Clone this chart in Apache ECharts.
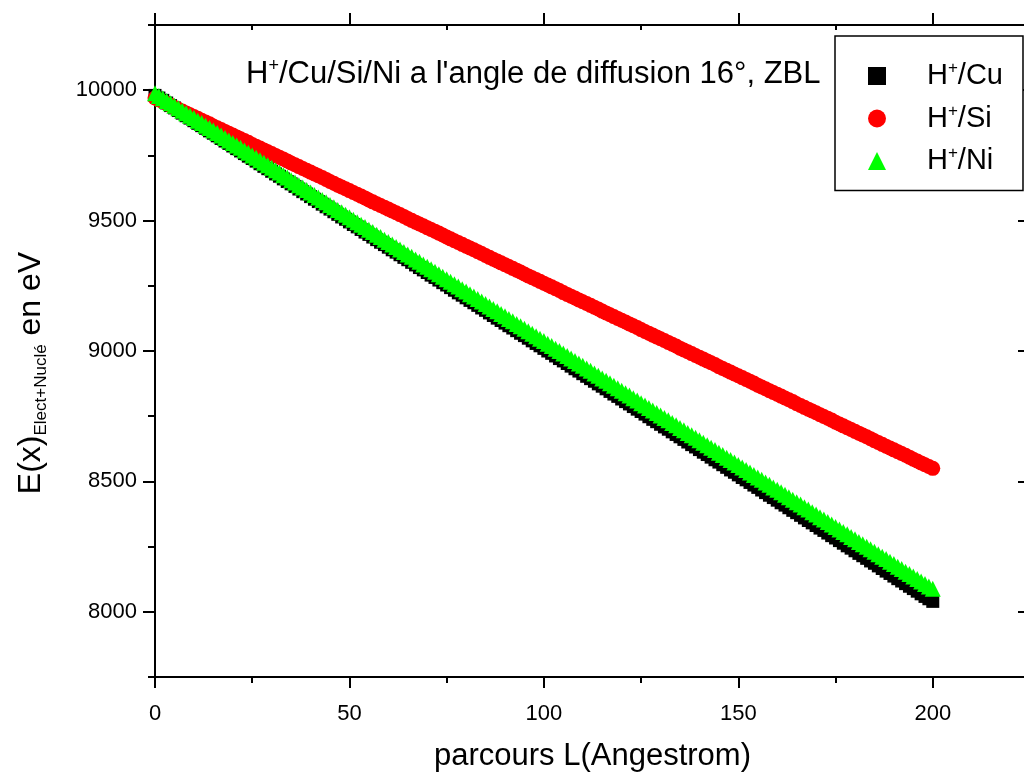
<!DOCTYPE html>
<html>
<head>
<meta charset="utf-8">
<title>E(x) vs parcours L</title>
<script src="https://cdn.jsdelivr.net/npm/echarts@6/dist/echarts.min.js"></script>
<style>
  html, body { margin: 0; padding: 0; background: #fff; }
  #chart { width: 1024px; height: 772px; }
</style>
</head>
<body>
<div id="chart"></div>
<script>
// Path length along the track, in Angstrom (one sample per Angstrom, 0..200)
const pathStep = 1;
const pathCount = 201;

// Residual energy E(x) (electronic + nuclear losses), eV
const energyCu = [
  9980, 9970, 9961, 9951, 9941, 9932, 9922, 9912, 9902, 9893,
  9883, 9873, 9864, 9854, 9844, 9835, 9825, 9815, 9805, 9796,
  9786, 9776, 9767, 9757, 9747, 9738, 9728, 9718, 9708, 9699,
  9689, 9679, 9670, 9660, 9650, 9641, 9631, 9621, 9611, 9602,
  9592, 9582, 9573, 9563, 9553, 9544, 9534, 9524, 9514, 9505,
  9495, 9485, 9476, 9466, 9456, 9447, 9437, 9427, 9417, 9408,
  9398, 9388, 9379, 9369, 9359, 9350, 9340, 9330, 9320, 9311,
  9301, 9291, 9282, 9272, 9262, 9253, 9243, 9233, 9223, 9214,
  9204, 9194, 9185, 9175, 9165, 9156, 9146, 9136, 9126, 9117,
  9107, 9097, 9088, 9078, 9068, 9059, 9049, 9039, 9029, 9020,
  9010, 9000, 8991, 8981, 8971, 8962, 8952, 8942, 8932, 8923,
  8913, 8903, 8894, 8884, 8874, 8865, 8855, 8845, 8835, 8826,
  8816, 8806, 8797, 8787, 8777, 8768, 8758, 8748, 8738, 8729,
  8719, 8709, 8700, 8690, 8680, 8671, 8661, 8651, 8641, 8632,
  8622, 8612, 8603, 8593, 8583, 8574, 8564, 8554, 8544, 8535,
  8525, 8515, 8506, 8496, 8486, 8477, 8467, 8457, 8447, 8438,
  8428, 8418, 8409, 8399, 8389, 8380, 8370, 8360, 8350, 8341,
  8331, 8321, 8312, 8302, 8292, 8283, 8273, 8263, 8253, 8244,
  8234, 8224, 8215, 8205, 8195, 8186, 8176, 8166, 8156, 8147,
  8137, 8127, 8118, 8108, 8098, 8089, 8079, 8069, 8059, 8050,
  8040
];

const energySi = [
  9970, 9963, 9956, 9949, 9942, 9934, 9927, 9920, 9913, 9906,
  9899, 9892, 9885, 9878, 9871, 9863, 9856, 9849, 9842, 9835,
  9828, 9821, 9814, 9807, 9800, 9792, 9785, 9778, 9771, 9764,
  9757, 9750, 9743, 9736, 9729, 9721, 9714, 9707, 9700, 9693,
  9686, 9679, 9672, 9665, 9658, 9650, 9643, 9636, 9629, 9622,
  9615, 9608, 9601, 9594, 9587, 9579, 9572, 9565, 9558, 9551,
  9544, 9537, 9530, 9523, 9516, 9508, 9501, 9494, 9487, 9480,
  9473, 9466, 9459, 9452, 9445, 9437, 9430, 9423, 9416, 9409,
  9402, 9395, 9388, 9381, 9374, 9366, 9359, 9352, 9345, 9338,
  9331, 9324, 9317, 9310, 9303, 9295, 9288, 9281, 9274, 9267,
  9260, 9253, 9246, 9239, 9232, 9224, 9217, 9210, 9203, 9196,
  9189, 9182, 9175, 9168, 9161, 9153, 9146, 9139, 9132, 9125,
  9118, 9111, 9104, 9097, 9090, 9082, 9075, 9068, 9061, 9054,
  9047, 9040, 9033, 9026, 9019, 9011, 9004, 8997, 8990, 8983,
  8976, 8969, 8962, 8955, 8948, 8940, 8933, 8926, 8919, 8912,
  8905, 8898, 8891, 8884, 8877, 8869, 8862, 8855, 8848, 8841,
  8834, 8827, 8820, 8813, 8806, 8798, 8791, 8784, 8777, 8770,
  8763, 8756, 8749, 8742, 8735, 8727, 8720, 8713, 8706, 8699,
  8692, 8685, 8678, 8671, 8664, 8656, 8649, 8642, 8635, 8628,
  8621, 8614, 8607, 8600, 8593, 8585, 8578, 8571, 8564, 8557,
  8550
];

const energyNi = [
  9988, 9978, 9969, 9959, 9950, 9940, 9931, 9921, 9912, 9902,
  9893, 9883, 9874, 9864, 9855, 9845, 9836, 9826, 9817, 9807,
  9798, 9788, 9779, 9769, 9760, 9750, 9741, 9731, 9722, 9712,
  9703, 9693, 9684, 9674, 9665, 9655, 9646, 9636, 9627, 9617,
  9608, 9598, 9589, 9579, 9570, 9560, 9551, 9541, 9532, 9522,
  9513, 9503, 9494, 9484, 9475, 9465, 9456, 9446, 9437, 9427,
  9418, 9408, 9399, 9389, 9380, 9370, 9361, 9351, 9342, 9332,
  9323, 9313, 9304, 9294, 9285, 9275, 9266, 9256, 9247, 9237,
  9228, 9218, 9209, 9199, 9190, 9180, 9171, 9161, 9152, 9142,
  9133, 9123, 9114, 9104, 9095, 9085, 9076, 9066, 9057, 9047,
  9038, 9028, 9019, 9009, 9000, 8990, 8981, 8971, 8962, 8952,
  8943, 8933, 8924, 8914, 8905, 8895, 8886, 8876, 8867, 8857,
  8848, 8838, 8829, 8819, 8810, 8800, 8791, 8781, 8772, 8762,
  8753, 8743, 8734, 8724, 8715, 8705, 8696, 8686, 8677, 8667,
  8658, 8648, 8639, 8629, 8620, 8610, 8601, 8591, 8582, 8572,
  8563, 8553, 8544, 8534, 8525, 8515, 8506, 8496, 8487, 8477,
  8468, 8458, 8449, 8439, 8430, 8420, 8411, 8401, 8392, 8382,
  8373, 8363, 8354, 8344, 8335, 8325, 8316, 8306, 8297, 8287,
  8278, 8268, 8259, 8249, 8240, 8230, 8221, 8211, 8202, 8192,
  8183, 8173, 8164, 8154, 8145, 8135, 8126, 8116, 8107, 8097,
  8088
];

// Series names and axis tick positions
const seriesNames = ['H+/Cu', 'H+/Si', 'H+/Ni'];
const xMajorTicks = [0, 50, 100, 150, 200];
const xMinorTicks = [25, 75, 125, 175, 225];
const yMajorTicks = [8000, 8500, 9000, 9500, 10000];
const yMinorTicks = [7750, 8250, 8750, 9250, 9750, 10250];

const X_MIN = 0, X_MAX = 225;
const Y_MIN = 7750, Y_MAX = 10250;
const FONT = 'Liberation Sans, Arial, sans-serif';

const pathLengths = Array.from({ length: pathCount }, (_, i) => i * pathStep);
const pairs = (vals) => pathLengths.map((x, i) => [x, vals[i]]);

// Superscript "+" after H in ion labels
const ionLabel = (name) => '{h|H}{p|+}{h|' + name.slice(2) + '}';

const axisLineStyle = { color: '#000', width: 2 };

function xAxisDef(position, ticks, opts) {
  return Object.assign({
    type: 'value', min: X_MIN, max: X_MAX, position: position,
    axisLine: { show: true, onZero: false, lineStyle: axisLineStyle },
    axisTick: { show: true, customValues: ticks, length: 11, lineStyle: axisLineStyle },
    axisLabel: { show: false },
    splitLine: { show: false }
  }, opts || {});
}
function yAxisDef(position, ticks, opts) {
  return Object.assign({
    type: 'value', min: Y_MIN, max: Y_MAX, position: position,
    axisLine: { show: true, onZero: false, lineStyle: axisLineStyle },
    axisTick: { show: true, customValues: ticks, length: 12, lineStyle: axisLineStyle },
    axisLabel: { show: false },
    splitLine: { show: false }
  }, opts || {});
}

const chart = echarts.init(document.getElementById('chart'), null, { renderer: 'canvas' });

chart.setOption({
  animation: false,
  backgroundColor: '#fff',
  textStyle: { fontFamily: FONT, color: '#000' },
  grid: { left: 155, top: 25, width: 875, height: 652, containLabel: false, outerBoundsMode: 'none' },
  xAxis: [
    xAxisDef('bottom', xMajorTicks, {
      axisLabel: { show: true, customValues: xMajorTicks, fontSize: 22, color: '#000', margin: 26, fontFamily: FONT },
      name: 'parcours L(Angestrom)',
      nameLocation: 'middle',
      nameGap: 64,
      nameTextStyle: { fontSize: 31, color: '#000', fontFamily: FONT }
    }),
    xAxisDef('bottom', xMinorTicks, { axisLine: { show: false }, axisTick: { show: true, customValues: xMinorTicks, length: 6, lineStyle: axisLineStyle } }),
    xAxisDef('top', xMajorTicks, { axisTick: { show: true, customValues: xMajorTicks, length: 12, lineStyle: axisLineStyle } }),
    xAxisDef('top', xMinorTicks, { axisLine: { show: false }, axisTick: { show: true, inside: true, customValues: xMinorTicks, length: 5, lineStyle: axisLineStyle } })
  ],
  yAxis: [
    yAxisDef('left', yMajorTicks, {
      axisLabel: { show: true, customValues: yMajorTicks, fontSize: 22, color: '#000', margin: 18, fontFamily: FONT, formatter: (v) => String(v) },
      name: '{m|E(x)}{s|Elect+Nuclé}{m| en eV}',
      nameLocation: 'middle',
      nameRotate: 90,
      nameGap: 105,
      nameTextStyle: {
        color: '#000',
        fontFamily: FONT,
        padding: [0, 44, 0, 0],
        rich: {
          m: { fontSize: 32, fontFamily: FONT, color: '#000', lineHeight: 38 },
          s: { fontSize: 17, fontFamily: FONT, color: '#000', verticalAlign: 'bottom', lineHeight: 38 }
        }
      }
    }),
    yAxisDef('left', yMinorTicks, { axisLine: { show: false }, axisTick: { show: true, customValues: yMinorTicks, length: 7, lineStyle: axisLineStyle } }),
    yAxisDef('right', yMajorTicks, { axisTick: { show: true, inside: true, customValues: yMajorTicks, length: 12, lineStyle: axisLineStyle } }),
    yAxisDef('right', yMinorTicks, { axisLine: { show: false }, axisTick: { show: true, inside: true, customValues: yMinorTicks, length: 6, lineStyle: axisLineStyle } })
  ],
  legend: {
    orient: 'vertical',
    left: 835,
    top: 36,
    padding: [24, 20, 15, 33],
    itemGap: 12,
    itemWidth: 18,
    itemHeight: 18,
    backgroundColor: '#fff',
    borderColor: '#000',
    borderWidth: 1.5,
    borderRadius: 0,
    data: [
      { name: seriesNames[0], icon: 'rect' },
      { name: seriesNames[1], icon: 'circle' },
      { name: seriesNames[2], icon: 'triangle' }
    ],
    formatter: ionLabel,
    textStyle: {
      padding: [0, 0, 0, 36],
      rich: {
        h: { fontSize: 29, fontFamily: FONT, color: '#000', lineHeight: 32 },
        p: { fontSize: 17, fontFamily: FONT, color: '#000', verticalAlign: 'top', lineHeight: 32 }
      }
    }
  },
  graphic: [{
    type: 'text',
    left: 246,
    top: 57,
    silent: true,
    style: {
      text: "{n|H}{p|+}{n|/Cu/Si/Ni a l'angle de diffusion 16°, ZBL}",
      rich: {
        n: { fontSize: 31, fontFamily: FONT, fill: '#000', lineHeight: 34 },
        p: { fontSize: 18, fontFamily: FONT, fill: '#000', verticalAlign: 'top', lineHeight: 34 }
      }
    }
  }],
  series: [
    {
      name: seriesNames[0], type: 'scatter', xAxisIndex: 0, yAxisIndex: 0,
      symbol: 'rect', symbolSize: 13,
      itemStyle: { color: '#000000', opacity: 1 },
      data: pairs(energyCu)
    },
    {
      name: seriesNames[1], type: 'scatter', xAxisIndex: 0, yAxisIndex: 0,
      symbol: 'circle', symbolSize: 15,
      itemStyle: { color: '#ff0000', opacity: 1 },
      data: pairs(energySi)
    },
    {
      name: seriesNames[2], type: 'scatter', xAxisIndex: 0, yAxisIndex: 0,
      symbol: 'triangle', symbolSize: 16,
      itemStyle: { color: '#00ff00', opacity: 1 },
      data: pairs(energyNi)
    }
  ]
});
</script>
</body>
</html>
